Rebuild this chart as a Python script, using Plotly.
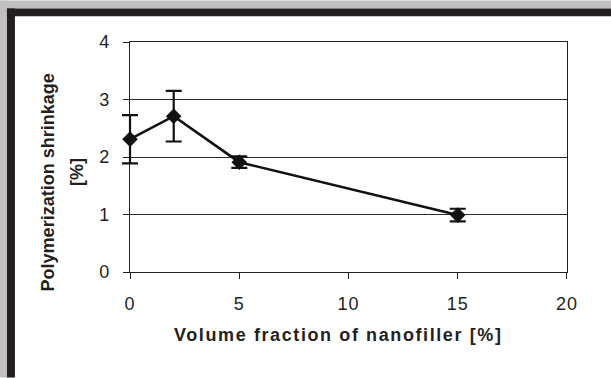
import plotly.graph_objects as go

# ---- data ----
filler_fraction = [0, 2, 5, 15]
shrinkage = [2.31, 2.71, 1.91, 0.99]
shrinkage_err = [0.42, 0.44, 0.10, 0.11]
x_ticks = [0, 5, 10, 15, 20]
y_ticks = [0, 1, 2, 3, 4]
x_range = [0, 20]
y_range = [0, 4]
x_title = "Volume fraction of nanofiller [%]"
y_title_1 = "Polymerization shrinkage"
y_title_2 = "[%]"

W, H = 611, 378
PL = 100                      # left edge of the paper area (px)
L, R, T, B = 130, 566.7, 41.7, 272.3   # plot area (px)
FONT = "Liberation Sans, Arial, sans-serif"
INK = "#231f20"


def px(x):
    return (x - PL) / (R - PL)


def py(y):
    return (B - y) / (B - T)


# an invisible twin axis that extends a little to the left so the
# error bar at x = 0 is not clipped; same data-to-pixel scale
x2_min = x_range[0] - (L - PL) * (x_range[1] - x_range[0]) / (R - L)

fig = go.Figure()
fig.add_trace(go.Scatter(x=[], y=[], showlegend=False, hoverinfo="skip"))
fig.add_trace(go.Scatter(
    x=filler_fraction, y=shrinkage,
    xaxis="x2", yaxis="y2",
    mode="lines+markers",
    line=dict(color="#111111", width=2.6),
    marker=dict(symbol="diamond", size=12, color="#111111"),
    error_y=dict(type="data", array=shrinkage_err, visible=True,
                 color="#111111", thickness=2.2, width=8),
    cliponaxis=False,
    showlegend=False,
))

shapes = [
    dict(type="rect", xref="paper", yref="paper", x0=px(0), x1=px(W), y0=py(0), y1=py(8),
         fillcolor="#c0c0c0", line_width=0, layer="below"),
    dict(type="rect", xref="paper", yref="paper", x0=px(0), x1=px(7), y0=py(0), y1=py(H),
         fillcolor="#c0c0c0", line_width=0, layer="below"),
    dict(type="rect", xref="paper", yref="paper", x0=px(7), x1=px(W), y0=py(8), y1=py(16),
         fillcolor=INK, line_width=0, layer="below"),
    dict(type="rect", xref="paper", yref="paper", x0=px(7), x1=px(15), y0=py(8), y1=py(H),
         fillcolor=INK, line_width=0, layer="below"),
]

annotations = [
    dict(text=f'<span style="letter-spacing:1.6px">{x_title}</span>',
         xref="paper", yref="paper", x=px(338), y=py(335),
         xanchor="center", yanchor="middle", showarrow=False,
         font=dict(family=FONT, size=18, color=INK, weight="bold")),
    dict(text=y_title_1, textangle=-90,
         xref="paper", yref="paper", x=px(48), y=py(182.5),
         xanchor="center", yanchor="middle", showarrow=False,
         font=dict(family=FONT, size=18, color=INK, weight="bold")),
    dict(text=y_title_2, textangle=-90,
         xref="paper", yref="paper", x=px(77), y=py(172),
         xanchor="center", yanchor="middle", showarrow=False,
         font=dict(family=FONT, size=18, color=INK, weight="bold")),
]

tick_font = dict(family=FONT, size=18, color=INK)

fig.update_layout(
    width=W, height=H,
    margin=dict(l=PL, r=W - R, t=T, b=H - B, pad=0),
    paper_bgcolor="white", plot_bgcolor="rgba(0,0,0,0)",
    shapes=shapes, annotations=annotations,
    font=dict(family=FONT, color=INK),
    xaxis=dict(
        domain=[(L - PL) / (R - PL), 1], anchor="y",
        range=x_range, tickvals=x_ticks,
        ticktext=[f'<span style="letter-spacing:1px">{v}</span>' for v in x_ticks],
        showgrid=False, zeroline=False,
        showline=True, linecolor=INK, linewidth=1.2, mirror=True,
        ticks="outside", ticklen=6, tickcolor=INK, tickwidth=1.2,
        tickfont=tick_font, ticklabelstandoff=9,
    ),
    yaxis=dict(
        domain=[0, 1], anchor="x",
        range=y_range, tickvals=y_ticks, ticktext=[str(v) for v in y_ticks],
        showgrid=True, gridcolor="#2a2a2a", gridwidth=1, zeroline=False,
        showline=True, linecolor=INK, linewidth=1.2, mirror=True,
        ticks="outside", ticklen=6, tickcolor=INK, tickwidth=1.2,
        tickfont=tick_font, ticklabelstandoff=10,
    ),
    xaxis2=dict(domain=[0, 1], anchor="y2", range=[x2_min, x_range[1]], visible=False),
    yaxis2=dict(domain=[0, 1], anchor="x2", range=y_range, visible=False),
)

fig.write_html("out.html")
